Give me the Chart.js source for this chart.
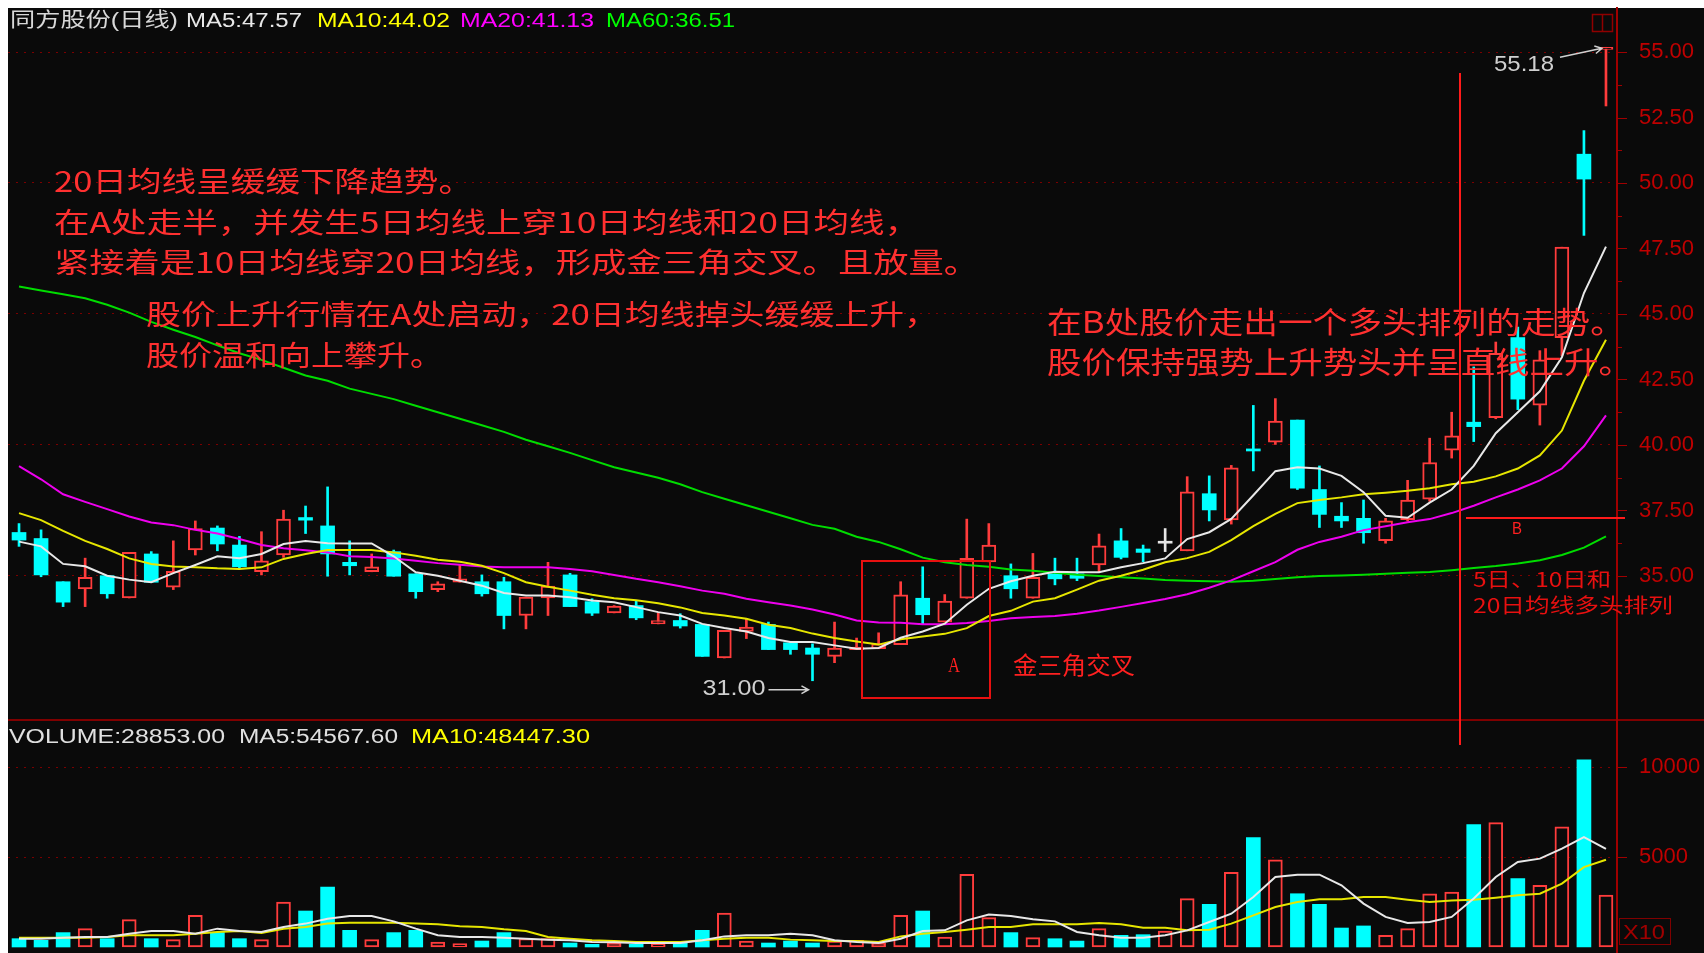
<!DOCTYPE html>
<html>
<head>
<meta charset="utf-8">
<script src="https://cdn.jsdelivr.net/npm/chart.js@4.4.1/dist/chart.umd.min.js"></script>
<style>
  html, body { margin: 0; padding: 0; background: #fff; }
  #wrap { position: relative; width: 1704px; height: 953px; overflow: hidden; }
  canvas { position: absolute; left: 0; }
  #price { top: 0; }
  #volume { top: 719px; }
</style>
</head>
<body>
<div id="wrap">
  <canvas id="price" width="1704" height="719"></canvas>
  <canvas id="volume" width="1704" height="234"></canvas>
</div>
<script>
// daily candles
var openP = [36.66, 36.43, 34.78, 34.51, 35.01, 34.16, 35.84, 34.57, 35.99, 36.83,
  36.18, 35.16, 35.80, 37.23, 36.91, 35.52, 35.16, 35.93, 35.08, 34.48,
  34.76, 34.78, 34.78, 33.49, 34.16, 35.04, 34.02, 33.59, 33.87, 33.17,
  33.30, 33.15, 31.87, 32.88, 33.15, 32.45, 32.25, 31.93, 32.19, 32.22,
  32.38, 34.15, 33.24, 34.15, 35.54, 35.01, 34.15, 35.08, 35.08, 35.42,
  36.34, 36.03, 36.25, 35.96, 38.14, 37.14, 39.85, 40.11, 40.95, 38.30,
  37.28, 37.20, 36.35, 37.15, 37.93, 39.80, 40.87, 41.04, 44.10, 41.52,
  44.10, 51.10, 55.10];
var highP = [37.00, 36.76, 34.78, 35.68, 35.01, 35.90, 35.93, 36.34, 37.10, 36.91,
  36.51, 36.69, 37.51, 37.67, 38.40, 36.34, 35.84, 35.99, 35.08, 34.78,
  35.42, 35.04, 34.95, 34.19, 35.52, 35.10, 34.13, 33.87, 34.06, 33.59,
  33.56, 33.15, 32.92, 33.36, 33.24, 32.45, 32.41, 33.24, 32.63, 32.83,
  34.78, 35.35, 34.29, 37.17, 37.00, 35.46, 35.86, 35.68, 35.68, 36.60,
  36.81, 36.18, 36.81, 38.79, 38.82, 39.22, 41.51, 41.77, 40.95, 39.20,
  37.80, 37.90, 37.20, 38.65, 40.26, 41.25, 42.98, 43.93, 44.50, 43.60,
  47.55, 52.00, 55.18];
var lowP = [36.13, 34.97, 33.83, 33.83, 34.15, 34.16, 34.76, 34.48, 35.80, 35.96,
  35.29, 35.04, 35.71, 36.62, 34.99, 35.04, 35.16, 34.99, 34.15, 34.40,
  34.76, 34.23, 32.98, 32.98, 33.49, 33.83, 33.49, 33.59, 33.33, 33.17,
  33.01, 31.93, 31.87, 32.61, 32.19, 32.01, 31.00, 31.69, 32.19, 32.22,
  32.38, 33.14, 33.24, 34.15, 35.54, 34.15, 34.15, 34.66, 34.82, 35.14,
  35.65, 35.54, 35.93, 35.96, 37.10, 36.98, 39.01, 40.02, 38.30, 36.85,
  36.85, 36.25, 36.25, 37.10, 37.85, 39.50, 40.13, 41.00, 41.35, 40.76,
  43.40, 48.00, 52.94];
var closeP = [36.37, 35.04, 34.00, 34.95, 34.32, 35.90, 34.76, 35.18, 36.81, 36.22,
  35.35, 35.58, 37.17, 37.13, 35.84, 35.39, 35.35, 34.99, 34.40, 34.70,
  34.89, 34.32, 33.49, 34.19, 34.61, 33.83, 33.58, 33.85, 33.40, 33.30,
  33.09, 31.93, 32.92, 33.05, 32.19, 32.19, 32.01, 32.25, 32.29, 32.41,
  34.28, 33.52, 34.04, 35.67, 36.18, 34.51, 34.95, 34.89, 34.91, 36.15,
  35.71, 35.90, 36.25, 38.21, 37.52, 39.13, 39.77, 40.91, 38.35, 37.35,
  37.10, 36.65, 37.10, 37.90, 39.33, 40.35, 40.70, 43.50, 41.75, 43.25,
  47.55, 50.15, 55.18];

var ma5 = [36.31, 36.13, 35.46, 35.37, 35.01, 34.86, 34.76, 35.11, 35.42, 35.75,
  35.68, 35.84, 36.22, 36.33, 36.25, 36.24, 36.24, 35.75, 35.14, 35.01,
  34.82, 34.63, 34.35, 34.25, 34.25, 34.19, 34.06, 34.00, 33.81, 33.62,
  33.49, 33.17, 33.01, 32.88, 32.63, 32.48, 32.48, 32.35, 32.22, 32.25,
  32.64, 32.88, 33.18, 33.90, 34.51, 34.80, 35.01, 35.16, 35.14, 35.14,
  35.33, 35.49, 35.67, 36.41, 36.67, 37.18, 38.08, 39.00, 39.15, 39.10,
  38.82, 38.20, 37.30, 37.22, 37.80, 38.30, 39.20, 40.45, 41.25, 42.05,
  43.35, 45.80, 47.57];
var ma10 = [37.40, 37.13, 36.72, 36.34, 36.03, 35.67, 35.46, 35.36, 35.33, 35.29,
  35.27, 35.33, 35.65, 35.84, 35.99, 35.99, 35.99, 35.90, 35.77, 35.62,
  35.54, 35.39, 35.11, 34.76, 34.59, 34.44, 34.28, 34.15, 34.07, 33.96,
  33.80, 33.59, 33.49, 33.37, 33.14, 33.01, 32.80, 32.63, 32.50, 32.38,
  32.58, 32.69, 32.79, 33.01, 33.47, 33.67, 34.02, 34.15, 34.48, 34.82,
  35.01, 35.24, 35.52, 35.68, 35.92, 36.37, 36.90, 37.37, 37.78, 37.90,
  38.00, 38.12, 38.18, 38.25, 38.35, 38.50, 38.60, 38.80, 39.10, 39.60,
  40.55, 42.45, 44.02];
var ma20 = [39.19, 38.69, 38.12, 37.83, 37.55, 37.27, 37.04, 36.94, 36.76, 36.62,
  36.41, 36.18, 36.06, 35.98, 35.90, 35.75, 35.72, 35.67, 35.58, 35.49,
  35.43, 35.36, 35.33, 35.33, 35.33, 35.27, 35.18, 35.04, 34.89, 34.76,
  34.61, 34.44, 34.32, 34.13, 34.00, 33.87, 33.72, 33.53, 33.30, 33.22,
  33.21, 33.16, 33.16, 33.20, 33.28, 33.39, 33.43, 33.47, 33.56, 33.68,
  33.82, 33.97, 34.12, 34.30, 34.55, 34.83, 35.18, 35.53, 36.00, 36.30,
  36.50, 36.75, 36.90, 37.05, 37.17, 37.40, 37.68, 38.00, 38.30, 38.65,
  39.10, 39.95, 41.13];
var ma60 = [46.05, 45.90, 45.75, 45.60, 45.35, 45.05, 44.70, 44.40, 44.12, 43.80,
  43.50, 43.25, 42.95, 42.65, 42.45, 42.15, 41.95, 41.75, 41.50, 41.25,
  41.00, 40.75, 40.50, 40.20, 39.95, 39.70, 39.42, 39.15, 38.95, 38.75,
  38.50, 38.20, 37.95, 37.70, 37.45, 37.20, 36.95, 36.80, 36.50, 36.30,
  36.02, 35.70, 35.52, 35.42, 35.35, 35.25, 35.20, 35.12, 35.05, 35.00,
  34.95, 34.90, 34.85, 34.82, 34.80, 34.78, 34.82, 34.88, 34.95, 35.00,
  35.02, 35.05, 35.08, 35.12, 35.15, 35.22, 35.30, 35.38, 35.48, 35.60,
  35.80, 36.08, 36.51];

// volume in units of 10 shares (axis shows X10)
var volume = [463, 370, 800, 1020, 463, 1520, 463, 410, 1760, 800,
  463, 410, 2500, 2000, 3330, 925, 410, 800, 925, 280,
  185, 333, 800, 463, 463, 222, 150, 222, 150, 150,
  280, 925, 1890, 333, 222, 333, 222, 333, 370, 222,
  1760, 2000, 555, 4040, 1630, 800, 520, 460, 330, 1020,
  650, 685, 890, 2690, 2370, 4150, 6075, 4850, 2960, 2370,
  1055, 1170, 650, 1020, 2960, 3055, 6800, 6910, 3800, 3430,
  6670, 10400, 2885.3];
var volMa5 = [463, 463, 520, 555, 555, 740, 890, 890, 740, 1020,
  890, 835, 1110, 1300, 1575, 1720, 1720, 1425, 1020, 650,
  555, 555, 520, 463, 410, 370, 280, 260, 222, 222,
  222, 370, 590, 650, 650, 740, 650, 370, 280, 222,
  463, 890, 925, 1480, 1800, 1720, 1540, 1425, 835, 650,
  520, 520, 650, 925, 1390, 1850, 2780, 3890, 4020, 4020,
  3430, 2410, 1670, 1330, 1390, 1670, 2690, 3890, 4720, 4910,
  5460, 6110, 5456.76];
var volMa10 = [520, 520, 520, 520, 555, 650, 650, 650, 740, 835,
  890, 780, 1020, 1110, 1300, 1350, 1350, 1350, 1300, 1260,
  1150, 1110, 980, 890, 555, 463, 370, 333, 280, 280,
  280, 370, 463, 520, 520, 410, 370, 333, 333, 280,
  590, 740, 835, 960, 1110, 1110, 1260, 1260, 1260, 1330,
  1260, 1075, 1075, 925, 960, 1300, 1760, 2220, 2500, 2650,
  2650, 2780, 2780, 2630, 2500, 2590, 2630, 2740, 2870, 2960,
  3520, 4440, 4844.73];

var priceTicks = [35, 37.5, 40, 42.5, 45, 47.5, 50, 52.5, 55];
var volumeTicks = [5000, 10000];

var BG = '#0a0a0a';
var RED = '#ff3c3c';
var CYAN = '#00ffff';
var WHITE = '#e6e6e6';
var AXIS = '#a00000';
var GRID = '#7a0000';
var TEXT_RED = '#ff3030';

var labels = closeP.map(function (c, i) { return i + 1; });
var dir = closeP.map(function (c, i) { return c > openP[i] ? 1 : (c < openP[i] ? -1 : 0); });
var candleColor = dir.map(function (d) { return d > 0 ? RED : (d < 0 ? CYAN : WHITE); });
var last = closeP.length - 1;

function fitText(ctx, text, x, y, w, font, color) {
    ctx.save();
    ctx.font = font;
    ctx.fillStyle = color;
    ctx.textBaseline = 'middle';
    var m = ctx.measureText(text).width;
    ctx.translate(x, y);
    ctx.scale(w / m, 1);
    ctx.fillText(text, 0, 0);
    ctx.restore();
}

function arrow(ctx, x1, y1, x2, y2, color) {
    var a = Math.atan2(y2 - y1, x2 - x1);
    ctx.save();
    ctx.strokeStyle = color;
    ctx.lineWidth = 1.5;
    ctx.beginPath();
    ctx.moveTo(x1, y1);
    ctx.lineTo(x2, y2);
    ctx.moveTo(x2 - 8 * Math.cos(a - 0.5), y2 - 8 * Math.sin(a - 0.5));
    ctx.lineTo(x2, y2);
    ctx.lineTo(x2 - 8 * Math.cos(a + 0.5), y2 - 8 * Math.sin(a + 0.5));
    ctx.stroke();
    ctx.restore();
}

var CJK = '"Noto Sans CJK SC", sans-serif';
var LAT = '"Liberation Sans", "Noto Sans CJK SC", sans-serif';

var notes = [
    { text: '20日均线呈缓缓下降趋势。', x: 54, y: 181, w: 419, size: 28 },
    { text: '在A处走半，并发生5日均线上穿10日均线和20日均线，', x: 54, y: 222, w: 866, size: 28 },
    { text: '紧接着是10日均线穿20日均线，形成金三角交叉。且放量。', x: 54, y: 262, w: 925, size: 28 },
    { text: '股价上升行情在A处启动，20日均线掉头缓缓上升，', x: 146, y: 314, w: 793, size: 28 },
    { text: '股价温和向上攀升。', x: 146, y: 355, w: 297, size: 28 },
    { text: '在B处股价走出一个多头排列的走势。', x: 1047, y: 322, w: 578, size: 30 },
    { text: '股价保持强势上升势头并呈直线上升。', x: 1047, y: 362, w: 586, size: 30 }
];

var priceBg = {
    id: 'priceBg',
    beforeDraw: function (chart) {
        var ctx = chart.ctx;
        ctx.save();
        ctx.fillStyle = BG;
        ctx.fillRect(8, 8, chart.width - 8, chart.height - 8);
        ctx.restore();
    }
};

var priceOverlay = {
    id: 'priceOverlay',
    afterDraw: function (chart) {
        var ctx = chart.ctx;
        var area = chart.chartArea;
        var xs = chart.scales.x;
        var ys = chart.scales.y;

        // minor / major ticks on the right axis
        ctx.save();
        ctx.strokeStyle = AXIS;
        ctx.lineWidth = 1;
        for (var v = 35; v <= 55.01; v += 1.25) {
            var yy = Math.round(ys.getPixelForValue(v)) + 0.5;
            var len = (Math.abs(v / 2.5 - Math.round(v / 2.5)) < 0.01) ? 10 : 5;
            ctx.beginPath();
            ctx.moveTo(area.right, yy);
            ctx.lineTo(area.right + len, yy);
            ctx.stroke();
        }
        ctx.restore();

        // header
        var hy = 21;
        fitText(ctx, '同方股份(日线)', 10, hy, 168, '20px ' + LAT, '#d8d8d8');
        fitText(ctx, 'MA5:' + ma5[last].toFixed(2), 186, hy, 116, '20px ' + LAT, '#e8e8e8');
        fitText(ctx, 'MA10:' + ma10[last].toFixed(2), 317, hy, 133, '20px ' + LAT, '#ffff00');
        fitText(ctx, 'MA20:' + ma20[last].toFixed(2), 460, hy, 134, '20px ' + LAT, '#ff00ff');
        fitText(ctx, 'MA60:' + ma60[last].toFixed(2), 606, hy, 129, '20px ' + LAT, '#00ff00');

        // small window icon top right
        ctx.save();
        ctx.strokeStyle = '#900000';
        ctx.lineWidth = 1.5;
        ctx.strokeRect(1592.5, 14.5, 20, 17);
        ctx.beginPath();
        ctx.moveTo(1602.5, 14.5);
        ctx.lineTo(1602.5, 31.5);
        ctx.stroke();
        ctx.restore();

        // big red notes
        notes.forEach(function (n) {
            fitText(ctx, n.text, n.x, n.y, n.w, n.size + 'px ' + CJK, TEXT_RED);
        });

        // box A and label
        ctx.save();
        ctx.strokeStyle = '#e81010';
        ctx.lineWidth = 2;
        ctx.strokeRect(862, 561, 128, 137);
        ctx.restore();
        fitText(ctx, 'A', 948, 667, 12, '20px "Liberation Serif", serif', '#ff2020');
        fitText(ctx, '金三角交叉', 1013, 665, 122, '24px ' + CJK, '#ff2020');

        // vertical marker line and B line
        ctx.save();
        ctx.strokeStyle = '#ff1a1a';
        ctx.lineWidth = 2;
        ctx.beginPath();
        ctx.moveTo(1460, 73);
        ctx.lineTo(1460, chart.height);
        ctx.moveTo(1466, 518);
        ctx.lineTo(1625, 518);
        ctx.stroke();
        ctx.restore();
        fitText(ctx, 'B', 1512, 530, 10, '16px "Liberation Sans", sans-serif', '#ff2020');
        fitText(ctx, '5日、10日和', 1473, 579, 138, '20px ' + CJK, '#e81010');
        fitText(ctx, '20日均线多头排列', 1473, 605, 200, '20px ' + CJK, '#e81010');

        // high / low labels
        var hi = Math.max.apply(null, highP);
        var hiIdx = highP.indexOf(hi);
        var lo = Math.min.apply(null, lowP);
        var loIdx = lowP.indexOf(lo);
        var hx = xs.getPixelForValue(hiIdx);
        var hyP = ys.getPixelForValue(hi);
        fitText(ctx, hi.toFixed(2), hx - 112, hyP + 18, 60, '22px "Liberation Sans", sans-serif', '#d0d0d0');
        arrow(ctx, hx - 46, hyP + 10, hx - 4, hyP + 1, '#d0d0d0');
        var lx = xs.getPixelForValue(loIdx);
        var ly = ys.getPixelForValue(lo);
        fitText(ctx, lo.toFixed(2), lx - 110, ly + 8, 63, '22px "Liberation Sans", sans-serif', '#d0d0d0');
        arrow(ctx, lx - 44, ly + 9, lx - 4, ly + 9, '#d0d0d0');
    }
};

var priceChart = new Chart(document.getElementById('price'), {
    data: {
        labels: labels,
        datasets: [
            { type: 'line', data: ma5, borderColor: '#e8e8e8', borderWidth: 2, pointRadius: 0, tension: 0, order: 0 },
            { type: 'line', data: ma10, borderColor: '#e6e600', borderWidth: 2, pointRadius: 0, tension: 0, order: 0 },
            { type: 'line', data: ma20, borderColor: '#ee00ee', borderWidth: 2, pointRadius: 0, tension: 0, order: 0 },
            { type: 'line', data: ma60, borderColor: '#00dd00', borderWidth: 2, pointRadius: 0, tension: 0, order: 0 },
            {
                type: 'bar',
                data: openP.map(function (o, i) { return [o, closeP[i]]; }),
                backgroundColor: dir.map(function (d) { return d > 0 ? BG : (d < 0 ? CYAN : WHITE); }),
                borderColor: candleColor,
                borderWidth: dir.map(function (d) { return d > 0 ? 2 : 0; }),
                borderSkipped: false,
                barThickness: 14,
                minBarLength: 2,
                grouped: false,
                order: 1
            },
            {
                type: 'bar',
                data: lowP.map(function (l, i) { return [l, highP[i]]; }),
                backgroundColor: candleColor,
                borderWidth: 0,
                barThickness: 2,
                grouped: false,
                order: 2
            }
        ]
    },
    options: {
        responsive: false,
        animation: false,
        devicePixelRatio: 1,
        layout: { padding: { left: 8, top: 8, right: 0, bottom: 0 } },
        plugins: { legend: { display: false }, tooltip: { enabled: false } },
        scales: {
            x: { display: false, offset: true, grid: { display: false } },
            y: {
                position: 'right',
                min: 29.54,
                max: 56.68,
                afterBuildTicks: function (s) {
                    s.ticks = priceTicks.map(function (v) { return { value: v }; });
                },
                afterFit: function (s) {
                    s.width = 87;
                    s.paddingTop = 0;
                    s.paddingBottom = 0;
                },
                grid: {
                    drawTicks: false,
                    lineWidth: 1,
                    color: function (ctx) {
                        return ctx.tick && ctx.tick.value % 5 === 0 ? GRID : 'rgba(0,0,0,0)';
                    }
                },
                border: { display: true, color: AXIS, width: 2, dash: [2, 6] },
                ticks: {
                    color: '#c00000',
                    padding: 22,
                    font: { family: 'Liberation Sans', size: 22 },
                    callback: function (v) { return Number(v).toFixed(2); }
                }
            }
        }
    },
    plugins: [priceBg, priceOverlay]
});

var volUp = closeP.map(function (c, i) { return c >= openP[i]; });

var volumeBg = {
    id: 'volumeBg',
    beforeDraw: function (chart) {
        var ctx = chart.ctx;
        ctx.save();
        ctx.fillStyle = BG;
        ctx.fillRect(8, 0, chart.width - 8, chart.height);
        ctx.fillStyle = '#800000';
        ctx.fillRect(8, 0, chart.width - 8, 2);
        ctx.restore();
    }
};

var volumeOverlay = {
    id: 'volumeOverlay',
    afterDraw: function (chart) {
        var ctx = chart.ctx;
        var area = chart.chartArea;
        var hy = 18;
        fitText(ctx, 'VOLUME:' + (volume[last] * 10).toFixed(2), 9, hy, 216, '20px ' + LAT, '#e0e0e0');
        fitText(ctx, 'MA5:' + (volMa5[last] * 10).toFixed(2), 239, hy, 159, '20px ' + LAT, '#e0e0e0');
        fitText(ctx, 'MA10:' + (volMa10[last] * 10).toFixed(2), 411, hy, 179, '20px ' + LAT, '#ffff00');

        ctx.save();
        ctx.strokeStyle = '#ff1a1a';
        ctx.lineWidth = 2;
        ctx.beginPath();
        ctx.moveTo(1460, 0);
        ctx.lineTo(1460, 26);
        ctx.stroke();

        ctx.strokeStyle = AXIS;
        ctx.lineWidth = 1;
        volumeTicks.forEach(function (v) {
            var yy = Math.round(chart.scales.y.getPixelForValue(v)) + 0.5;
            ctx.beginPath();
            ctx.moveTo(area.right, yy);
            ctx.lineTo(area.right + 10, yy);
            ctx.stroke();
        });
        ctx.strokeStyle = '#800000';
        ctx.strokeRect(1619.5, 199.5, 51, 26);
        ctx.restore();
        fitText(ctx, 'X10', 1623, 214, 42, '20px "Liberation Sans", sans-serif', '#a00000');
    }
};

var volumeChart = new Chart(document.getElementById('volume'), {
    data: {
        labels: labels,
        datasets: [
            { type: 'line', data: volMa5, borderColor: '#e8e8e8', borderWidth: 2, pointRadius: 0, tension: 0, order: 0 },
            { type: 'line', data: volMa10, borderColor: '#e6e600', borderWidth: 2, pointRadius: 0, tension: 0, order: 0 },
            {
                type: 'bar',
                data: volume,
                backgroundColor: volUp.map(function (u) { return u ? BG : CYAN; }),
                borderColor: volUp.map(function (u) { return u ? RED : CYAN; }),
                borderWidth: volUp.map(function (u) { return u ? 2 : 0; }),
                borderSkipped: false,
                barThickness: 14,
                grouped: false,
                order: 1
            }
        ]
    },
    options: {
        responsive: false,
        animation: false,
        devicePixelRatio: 1,
        layout: { padding: { left: 8, top: 0, right: 0, bottom: 0 } },
        plugins: { legend: { display: false }, tooltip: { enabled: false } },
        scales: {
            x: { display: false, offset: true, grid: { display: false } },
            y: {
                position: 'right',
                min: -333,
                max: 12667,
                afterBuildTicks: function (s) {
                    s.ticks = volumeTicks.map(function (v) { return { value: v }; });
                },
                afterFit: function (s) {
                    s.width = 87;
                    s.paddingTop = 0;
                    s.paddingBottom = 0;
                },
                grid: { drawTicks: false, lineWidth: 1, color: GRID },
                border: { display: true, color: AXIS, width: 2, dash: [2, 6] },
                ticks: {
                    color: '#c00000',
                    padding: 22,
                    font: { family: 'Liberation Sans', size: 22 },
                    callback: function (v) { return String(v); }
                }
            }
        }
    },
    plugins: [volumeBg, volumeOverlay]
});
</script>
</body>
</html>
